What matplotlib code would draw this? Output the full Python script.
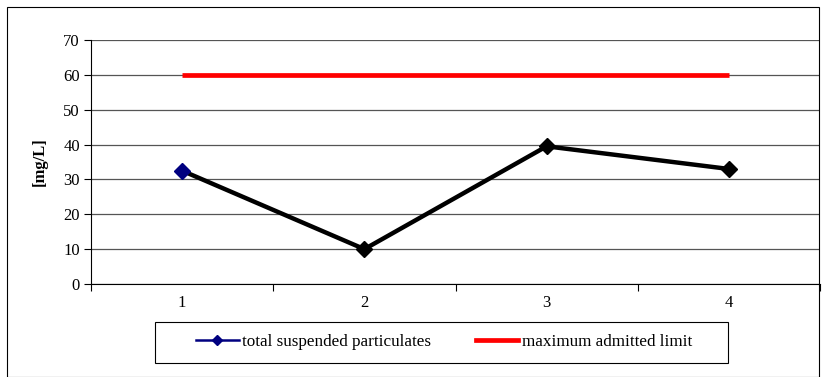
import matplotlib.pyplot as plt
from matplotlib.lines import Line2D
from matplotlib.patches import Rectangle

plt.rcParams['font.family'] = ['Liberation Serif', 'DejaVu Serif']

# measurements per sampling point
points = [1, 2, 3, 4]
tsp = [32.5, 10, 39.5, 33]
limit = [60, 60, 60, 60]

fig = plt.figure(figsize=(8.25, 3.77), dpi=100)
W, H = 825, 377

# outer chart frame
fig.patches.append(Rectangle((7 / W, 0), 812 / W, 370 / H, transform=fig.transFigure,
                             fill=False, edgecolor='black', linewidth=0.8))

ax = fig.add_axes([91 / W, (H - 284) / H, 729 / W, 244 / H])

x = [p - 0.5 for p in points]
ax.plot(x, limit, color='red', linewidth=3.4, solid_capstyle='butt')
ax.plot(x, tsp, color='black', linewidth=3.2, zorder=3)
ax.plot(x[1:], tsp[1:], linestyle='none', marker='D', markersize=8.5,
        color='black', zorder=4)
ax.plot(x[:1], tsp[:1], linestyle='none', marker='D', markersize=8.5,
        color='#000080', zorder=4)

ax.set_xlim(0, 4)
ax.set_ylim(0, 70)
ax.set_yticks(range(0, 71, 10))
ax.set_xticks([0, 1, 2, 3, 4])
ax.set_xticklabels([])
ax.set_xticks(x, minor=True)
ax.set_xticklabels([str(p) for p in points], minor=True)
ax.tick_params(axis='x', which='minor', length=0, pad=8, labelsize=12)
ax.tick_params(axis='x', which='major', length=5, width=0.8, direction='out')
ax.tick_params(axis='y', length=5, width=0.8, direction='out', labelsize=12, pad=3)

ax.grid(axis='y', color='#555555', linewidth=0.9)
ax.set_axisbelow(True)
for s in ['top', 'right']:
    ax.spines[s].set_visible(False)
ax.spines['left'].set_linewidth(0.8)
ax.spines['bottom'].set_linewidth(0.8)

ax.set_ylabel('[mg/L]', fontweight='bold', fontsize=12, labelpad=11)

# legend box, drawn separately so its padding can be wider than the entries
fig.patches.append(Rectangle((155 / W, (H - 363) / H), 573 / W, 41 / H,
                             transform=fig.transFigure, fill=False,
                             edgecolor='black', linewidth=0.8))
handles = [
    Line2D([], [], color='#000080', linewidth=1.8, marker='D', markersize=5),
    Line2D([], [], color='red', linewidth=3.4),
]
leg = fig.legend(handles, ['total suspended particulates', 'maximum admitted limit'],
                 ncol=2, loc='center', bbox_to_anchor=(444 / W, (H - 342) / H),
                 frameon=False, fontsize=12.3,
                 handlelength=2.5, handletextpad=0.2, columnspacing=2.6,
                 borderpad=0, borderaxespad=0)

fig.savefig('out.png', dpi=100)
